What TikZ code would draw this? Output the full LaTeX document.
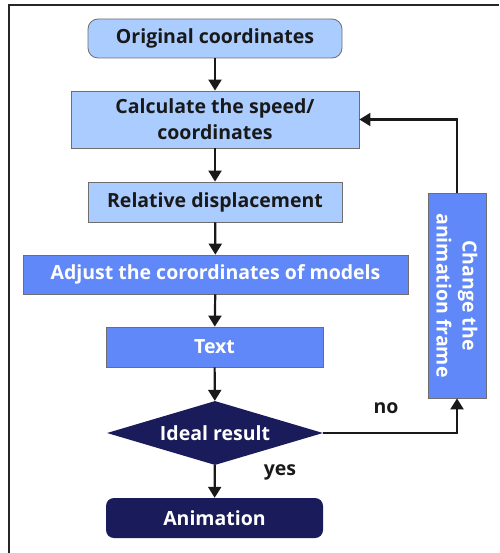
\documentclass[tikz,border=0pt]{standalone}
\usepackage{fontspec}
\setmainfont{Open Sans}
\usetikzlibrary{shapes.geometric, arrows.meta}
\definecolor{lightbox}{RGB}{170,204,255}
\definecolor{midbox}{RGB}{96,136,248}
\definecolor{navybox}{RGB}{26,27,90}
\definecolor{edgegray}{RGB}{110,110,110}
\begin{document}
\begin{tikzpicture}[x=1pt, y=-1pt, every node/.style={font=\bfseries\fontsize{19.5}{26}\selectfont}]
        \tikzstyle{light} = [draw=edgegray, line width=0.8pt, fill=lightbox, text=black!90, align=center, inner sep=0pt]
        \tikzstyle{mid} = [draw=edgegray, line width=0.8pt, fill=midbox, text=white, align=center, inner sep=0pt]
        \tikzstyle{navy} = [fill=navybox, text=white, align=center, inner sep=0pt]
        \tikzstyle{arr} = [-{Triangle[length=11pt, width=13pt]}, line width=2.2pt, black!90]
        \useasboundingbox (0,0) rectangle (499,553);
        \draw[line width=2pt, black!85] (9,553) -- (9,5) -- (499,5);
        \node[light, rounded corners=10pt, minimum width=254pt, minimum height=39pt] (orig) at (215, 38.5) {Original coordinates};
        \node[light, minimum width=288pt, minimum height=57pt] (calc) at (215, 119.5) {Calculate the speed/\\coordinates};
        \node[light, minimum width=254pt, minimum height=40pt] (rel) at (215, 202) {Relative displacement};
        \node[mid, minimum width=385pt, minimum height=39pt] (adj) at (215.5, 274.5) {Adjust the corordinates of models};
        \node[mid, minimum width=217pt, minimum height=40pt] (txt) at (214.5, 347) {Text};
        \node[navy, diamond, aspect=3.375, minimum width=216pt, minimum height=64pt] (ideal) at (215, 433) {Ideal result};
        \node[navy, rounded corners=8pt, minimum width=217pt, minimum height=40pt] (anim) at (214.5, 518) {Animation};
        \node[mid, minimum width=58pt, minimum height=205pt] (frame) at (457, 295.5) {};
        \node[text=white, rotate=-90, align=center] (framelbl) at (frame.center) {Change the\\animation frame};
        \node[text=black!90] (no) at (386, 408) {no};
        \node[text=black!90] (yes) at (280, 472) {yes};
        \draw[arr] (orig) -- (calc);
        \draw[arr] (calc) -- (rel);
        \draw[arr] (rel) -- (adj);
        \draw[arr] (adj) -- (txt);
        \draw[arr] (txt) -- (ideal);
        \draw[arr] (ideal) -- (anim);
        \draw[arr] (ideal.east) -| (frame.south);
        \draw[arr] (frame.north) |- (calc.east);
      \end{tikzpicture}
\end{document}
